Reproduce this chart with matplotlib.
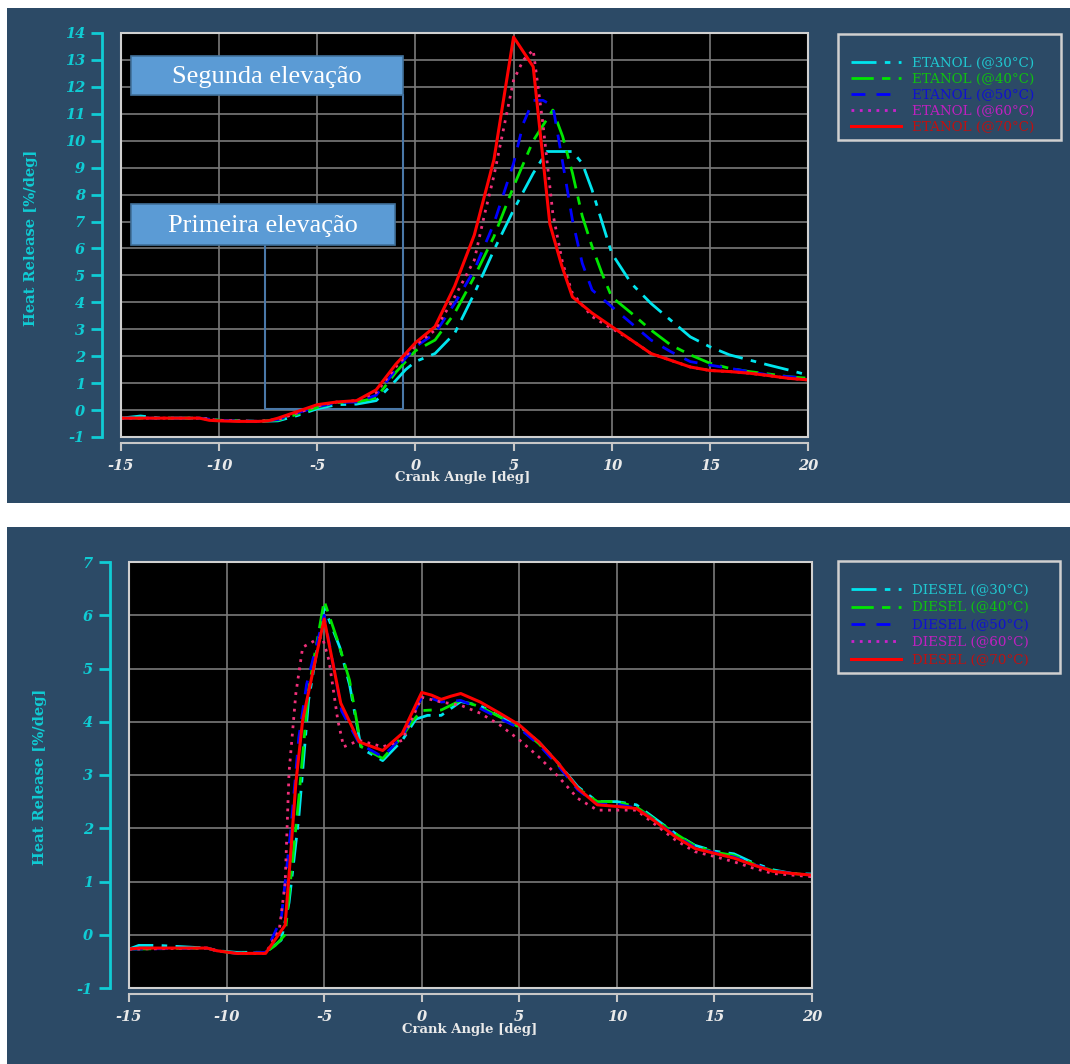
import matplotlib
matplotlib.use("Agg")
import matplotlib.pyplot as plt
from matplotlib.patches import Rectangle

plt.rcParams["axes.unicode_minus"] = False

# ---- ETANOL (top chart) ----
et30_x = [-15, -14, -13, -11, -10, -8, -7, -6, -5, -4, -3, -2, -1, -0.5, 0, 1, 2, 3, 4, 5, 6, 6.7, 7, 8, 8.5, 9, 10, 11, 12, 13, 14, 15, 16, 17, 18, 19, 20]
et30_y = [-0.3, -0.22, -0.3, -0.3, -0.38, -0.42, -0.4, -0.2, 0.05, 0.2, 0.22, 0.35, 1.1, 1.5, 1.8, 2.1, 2.85, 4.33, 5.94, 7.43, 8.79, 9.6, 9.6, 9.6, 9.16, 8.17, 5.82, 4.7, 3.96, 3.34, 2.72, 2.35, 2.05, 1.86, 1.67, 1.49, 1.3]
et40_x = [-15, -11, -10, -8, -7, -6, -5, -4, -3, -2, -1, 0, 1, 2, 3, 4, 5, 6, 7, 7.5, 8, 8.5, 9, 9.5, 10, 11, 12, 13, 14, 15, 16, 17, 18, 19, 20]
et40_y = [-0.3, -0.3, -0.38, -0.42, -0.37, -0.15, 0.1, 0.28, 0.3, 0.45, 1.4, 2.2, 2.6, 3.6, 4.95, 6.44, 8.3, 10.0, 11.14, 10.16, 8.8, 7.2, 6.07, 5.08, 4.2, 3.6, 2.97, 2.42, 2.05, 1.74, 1.55, 1.43, 1.34, 1.24, 1.18]
et50_x = [-15, -11, -10, -8, -7, -6, -5, -4, -3, -2, -1, 0, 1, 2, 3, 4, 5, 5.5, 6, 6.5, 7, 7.5, 8, 8.5, 9, 10, 11, 12, 13, 14, 15, 16, 17, 18, 19, 20]
et50_y = [-0.3, -0.3, -0.38, -0.42, -0.35, -0.1, 0.12, 0.28, 0.3, 0.55, 1.5, 2.35, 2.85, 3.96, 5.2, 6.93, 9.16, 10.65, 11.5, 11.5, 11.3, 9.2, 7.05, 5.45, 4.46, 3.84, 3.22, 2.6, 2.17, 1.8, 1.67, 1.55, 1.43, 1.3, 1.24, 1.18]
et60_x = [-15, -11, -10, -8, -7, -6, -5, -4, -3, -2, -1, 0, 1, 2, 3, 3.5, 4, 5, 5.5, 6, 6.5, 7, 7.5, 8, 9, 10, 11, 12, 13, 14, 15, 16, 17, 18, 19, 20]
et60_y = [-0.3, -0.3, -0.38, -0.42, -0.35, -0.1, 0.15, 0.3, 0.35, 0.65, 1.6, 2.4, 2.97, 4.2, 5.57, 7.2, 8.7, 12.25, 13.0, 13.37, 10.6, 7.3, 5.45, 4.33, 3.47, 3.03, 2.6, 2.1, 1.85, 1.6, 1.47, 1.43, 1.37, 1.28, 1.18, 1.12]
et70_x = [-15, -11, -10.5, -10, -9, -8, -7.5, -7, -6, -5, -4, -3, -2, -1, 0, 1, 2, 3, 4, 5, 6, 6.85, 7.45, 8, 9, 10, 11, 12, 13, 14, 15, 16, 17, 18, 19, 20]
et70_y = [-0.3, -0.3, -0.38, -0.4, -0.42, -0.42, -0.4, -0.3, -0.05, 0.2, 0.3, 0.35, 0.75, 1.7, 2.5, 3.1, 4.6, 6.5, 9.3, 13.85, 12.75, 6.9, 5.37, 4.2, 3.6, 3.1, 2.6, 2.1, 1.85, 1.6, 1.47, 1.43, 1.37, 1.28, 1.18, 1.12]

# ---- DIESEL (bottom chart) ----
di30_x = [-15, -14.5, -13.5, -11, -10.5, -9.5, -8, -7.2, -6.8, -6.3, -5.8, -5, -4.2, -3.7, -3.1, -2, -1, -0.3, 0.3, 1, 1.5, 2, 3, 4, 5, 6, 7, 8, 9, 10, 11, 12, 13, 14, 15, 16, 17, 18, 19, 20]
di30_y = [-0.27, -0.2, -0.2, -0.25, -0.3, -0.33, -0.33, -0.1, 0.6, 2.2, 4.4, 6.15, 5.4, 4.7, 3.5, 3.27, 3.65, 4.05, 4.12, 4.12, 4.25, 4.38, 4.3, 4.1, 3.92, 3.62, 3.22, 2.78, 2.5, 2.5, 2.44, 2.17, 1.9, 1.68, 1.57, 1.52, 1.35, 1.22, 1.15, 1.14]
di40_x = [-15, -11, -10.5, -9.5, -8, -7.5, -7, -6.3, -5.8, -5, -4.25, -3.7, -3.1, -2, -1, -0.5, 0, 0.5, 1, 1.5, 2, 3, 4, 5, 6, 7, 8, 9, 10, 11, 12, 13, 14, 15, 16, 17, 18, 19, 20]
di40_y = [-0.27, -0.25, -0.3, -0.35, -0.33, -0.2, 0.0, 2.56, 4.6, 6.27, 5.46, 4.78, 3.53, 3.31, 3.72, 4.0, 4.21, 4.22, 4.22, 4.31, 4.4, 4.28, 4.09, 3.9, 3.59, 3.19, 2.75, 2.5, 2.5, 2.4, 2.15, 1.9, 1.67, 1.55, 1.49, 1.33, 1.2, 1.15, 1.12]
di50_x = [-15, -11, -10.5, -9.5, -8, -7.2, -6.7, -6.3, -5.9, -5, -4.1, -3.2, -2, -1, 0, 0.5, 1, 2, 3, 4, 5, 6, 7, 8, 9, 10, 11, 12, 13, 14, 15, 16, 17, 18, 19, 20]
di50_y = [-0.27, -0.25, -0.3, -0.35, -0.33, 0.3, 2.0, 3.7, 4.7, 6.0, 4.2, 3.59, 3.34, 3.72, 4.46, 4.44, 4.37, 4.4, 4.25, 4.06, 3.88, 3.57, 3.17, 2.72, 2.45, 2.45, 2.38, 2.13, 1.86, 1.64, 1.54, 1.46, 1.32, 1.2, 1.15, 1.12]
di60_x = [-15, -11, -10.5, -9.5, -8, -7.3, -7, -6.8, -6.45, -6.1, -5.6, -5.1, -4.75, -4.3, -4, -3.2, -2, -1, 0, 1, 2, 3, 4, 5, 6, 7, 8, 9, 10, 11, 12, 13, 14, 15, 16, 17, 18, 19, 20]
di60_y = [-0.27, -0.25, -0.3, -0.35, -0.35, 0.09, 0.96, 3.04, 4.53, 5.4, 5.5, 5.6, 5.15, 4.03, 3.53, 3.65, 3.53, 3.65, 4.46, 4.37, 4.31, 4.16, 3.94, 3.66, 3.34, 2.97, 2.56, 2.34, 2.34, 2.34, 2.06, 1.78, 1.56, 1.47, 1.37, 1.25, 1.15, 1.12, 1.09]
di70_x = [-15, -14.5, -11, -10.5, -9.5, -8, -7, -6.7, -6.45, -6.1, -5.6, -5, -4.15, -3.2, -2, -1, 0, 0.5, 1, 1.5, 2, 3, 4, 5, 6, 7, 8, 9, 10, 11, 12, 13, 14, 15, 16, 17, 18, 19, 20]
di70_y = [-0.27, -0.25, -0.25, -0.3, -0.35, -0.35, 0.18, 1.6, 2.85, 4.03, 4.9, 5.93, 4.35, 3.62, 3.46, 3.78, 4.55, 4.5, 4.42, 4.48, 4.53, 4.37, 4.16, 3.94, 3.62, 3.22, 2.75, 2.44, 2.41, 2.37, 2.12, 1.84, 1.62, 1.53, 1.44, 1.31, 1.19, 1.15, 1.12]

temps = ["30", "40", "50", "60", "70"]
line_colors = ["#00E5EE", "#00E600", "#0000FF", "#F0307A", "#FF0000"]
legend_line_colors = ["#00E5EE", "#00E600", "#0000FF", "#CC22CC", "#FF0000"]
text_colors = ["#20C8D0", "#10C010", "#1010D0", "#C020C0", "#C01010"]
styles = [(0, (9, 3, 2, 3)), (0, (8, 3, 3, 3)), (0, (5, 4)), (0, (1, 2)), "-"]

PANEL = "#2C4A66"
CYAN = "#10CCD4"
W, H = 1070, 1064


def fx(px):
    return px / W


def fy(py):
    return 1 - py / H


def style_axes(ax, ymin, ymax):
    ax.set_facecolor("black")
    ax.set_xlim(-15, 20)
    ax.set_ylim(ymin, ymax)
    ax.set_xticks(range(-15, 21, 5))
    ax.set_yticks(range(ymin, ymax + 1))
    ax.grid(True, color="#7A7A7A", lw=1.2)
    ax.set_axisbelow(True)
    for s in ["top", "right"]:
        ax.spines[s].set_visible(False)
    ax.spines["left"].set_position(("outward", 14))
    ax.spines["left"].set_color(CYAN)
    ax.spines["left"].set_linewidth(2)
    ax.spines["bottom"].set_position(("outward", 4))
    ax.spines["bottom"].set_color("#C8C8C8")
    ax.spines["bottom"].set_linewidth(1.5)
    ax.tick_params(axis="y", colors=CYAN, length=8, width=2, pad=4)
    ax.tick_params(axis="x", colors="#C8C8C8", length=6, width=1.5, pad=6)
    for lab in ax.get_yticklabels():
        lab.set_fontfamily("DejaVu Serif")
        lab.set_fontweight("bold")
        lab.set_fontstyle("italic")
        lab.set_fontsize(10.5)
        lab.set_color(CYAN)
    for lab in ax.get_xticklabels():
        lab.set_fontfamily("DejaVu Serif")
        lab.set_fontweight("bold")
        lab.set_fontstyle("italic")
        lab.set_fontsize(10.5)
        lab.set_color("#EAEAEA")
    ax.add_patch(Rectangle((0, 0), 1, 1, transform=ax.transAxes, fill=False,
                           edgecolor="#D0D0D0", lw=1.5, clip_on=False, zorder=5))


def add_legend(ax, lines, name, top_px, left_px, right_px, bottom_px, spacing):
    fig.patches.append(Rectangle((fx(left_px), fy(bottom_px)), fx(right_px - left_px),
                                 (bottom_px - top_px) / H, transform=fig.transFigure,
                                 facecolor="none", edgecolor="#D0D0D0", lw=1.8))
    leg = ax.legend(lines, [f"{name} (@{t}°C)" for t in temps], loc="upper left",
                    bbox_to_anchor=(fx(left_px + 2), fy(top_px + 12)),
                    bbox_transform=fig.transFigure, frameon=False,
                    prop={"family": "DejaVu Serif", "size": 9.7},
                    handlelength=3.7, handletextpad=0.85, labelspacing=spacing,
                    borderpad=0.3)
    for i, txt in enumerate(leg.get_texts()):
        txt.set_color(text_colors[i])
    for i, ln in enumerate(leg.get_lines()):
        ln.set_color(legend_line_colors[i])
    return leg


fig = plt.figure(figsize=(W / 100, H / 100), dpi=100)
fig.patch.set_facecolor("white")
fig.patches.append(Rectangle((fx(7), fy(503)), fx(1063), 495 / H, transform=fig.transFigure,
                             facecolor=PANEL, edgecolor="none", zorder=-10))
fig.patches.append(Rectangle((fx(7), 0), fx(1063), 537 / H, transform=fig.transFigure,
                             facecolor=PANEL, edgecolor="none", zorder=-10))

# ---- top chart ----
ax1 = fig.add_axes([fx(121), fy(437), fx(808 - 121), (437 - 33) / H])
style_axes(ax1, -1, 14)

# annotation brackets and boxes
ax1.plot([-7.66, -7.66, -0.63, -0.63], [6.1, 0.04, 0.04, 11.7], color="#4A78A8", lw=1.5, zorder=2)
et_x = [et30_x, et40_x, et50_x, et60_x, et70_x]
et_y = [et30_y, et40_y, et50_y, et60_y, et70_y]
top_lines = []
for i in range(5):
    lw = 2.2 if i == 4 else 2.0
    (ln,) = ax1.plot(et_x[i], et_y[i], color=line_colors[i], ls=styles[i], lw=lw, zorder=3)
    top_lines.append(ln)

for (x0, x1, y0, y1, label) in [(-14.5, -0.63, 11.7, 13.15, "Segunda elevação"),
                                (-14.5, -1.04, 6.13, 7.65, "Primeira elevação")]:
    ax1.add_patch(Rectangle((x0, y0), x1 - x0, y1 - y0, facecolor="#5B9BD5",
                            edgecolor="#41719C", lw=1.2, zorder=6))
    ax1.text((x0 + x1) / 2, (y0 + y1) / 2 - 0.05, label, ha="center", va="center",
             color="white", fontsize=19, family="Liberation Serif", zorder=7)

add_legend(ax1, top_lines, "ETANOL", 34, 838, 1061, 140, 0.22)
fig.text(fx(463), fy(478), "Crank Angle [deg]", ha="center", va="center",
         color="#EAEAEA", fontsize=9.5, fontweight="bold", family="DejaVu Serif")
fig.text(fx(31), fy(238), "Heat Release [%/deg]", ha="center", va="center", rotation=90,
         color=CYAN, fontsize=10.5, fontweight="bold", family="DejaVu Serif")

# ---- bottom chart ----
ax2 = fig.add_axes([fx(129), fy(988), fx(812 - 129), (988 - 562) / H])
style_axes(ax2, -1, 7)
di_x = [di30_x, di40_x, di50_x, di60_x, di70_x]
di_y = [di30_y, di40_y, di50_y, di60_y, di70_y]
bot_lines = []
for i in range(5):
    lw = 2.2 if i == 4 else 2.0
    (ln,) = ax2.plot(di_x[i], di_y[i], color=line_colors[i], ls=styles[i], lw=lw, zorder=3)
    bot_lines.append(ln)

add_legend(ax2, bot_lines, "DIESEL", 561, 838, 1060, 673, 0.33)
fig.text(fx(470), fy(1030), "Crank Angle [deg]", ha="center", va="center",
         color="#EAEAEA", fontsize=9.5, fontweight="bold", family="DejaVu Serif")
fig.text(fx(40), fy(777), "Heat Release [%/deg]", ha="center", va="center", rotation=90,
         color=CYAN, fontsize=10.5, fontweight="bold", family="DejaVu Serif")

fig.savefig("out.png", dpi=100, facecolor=fig.get_facecolor())
